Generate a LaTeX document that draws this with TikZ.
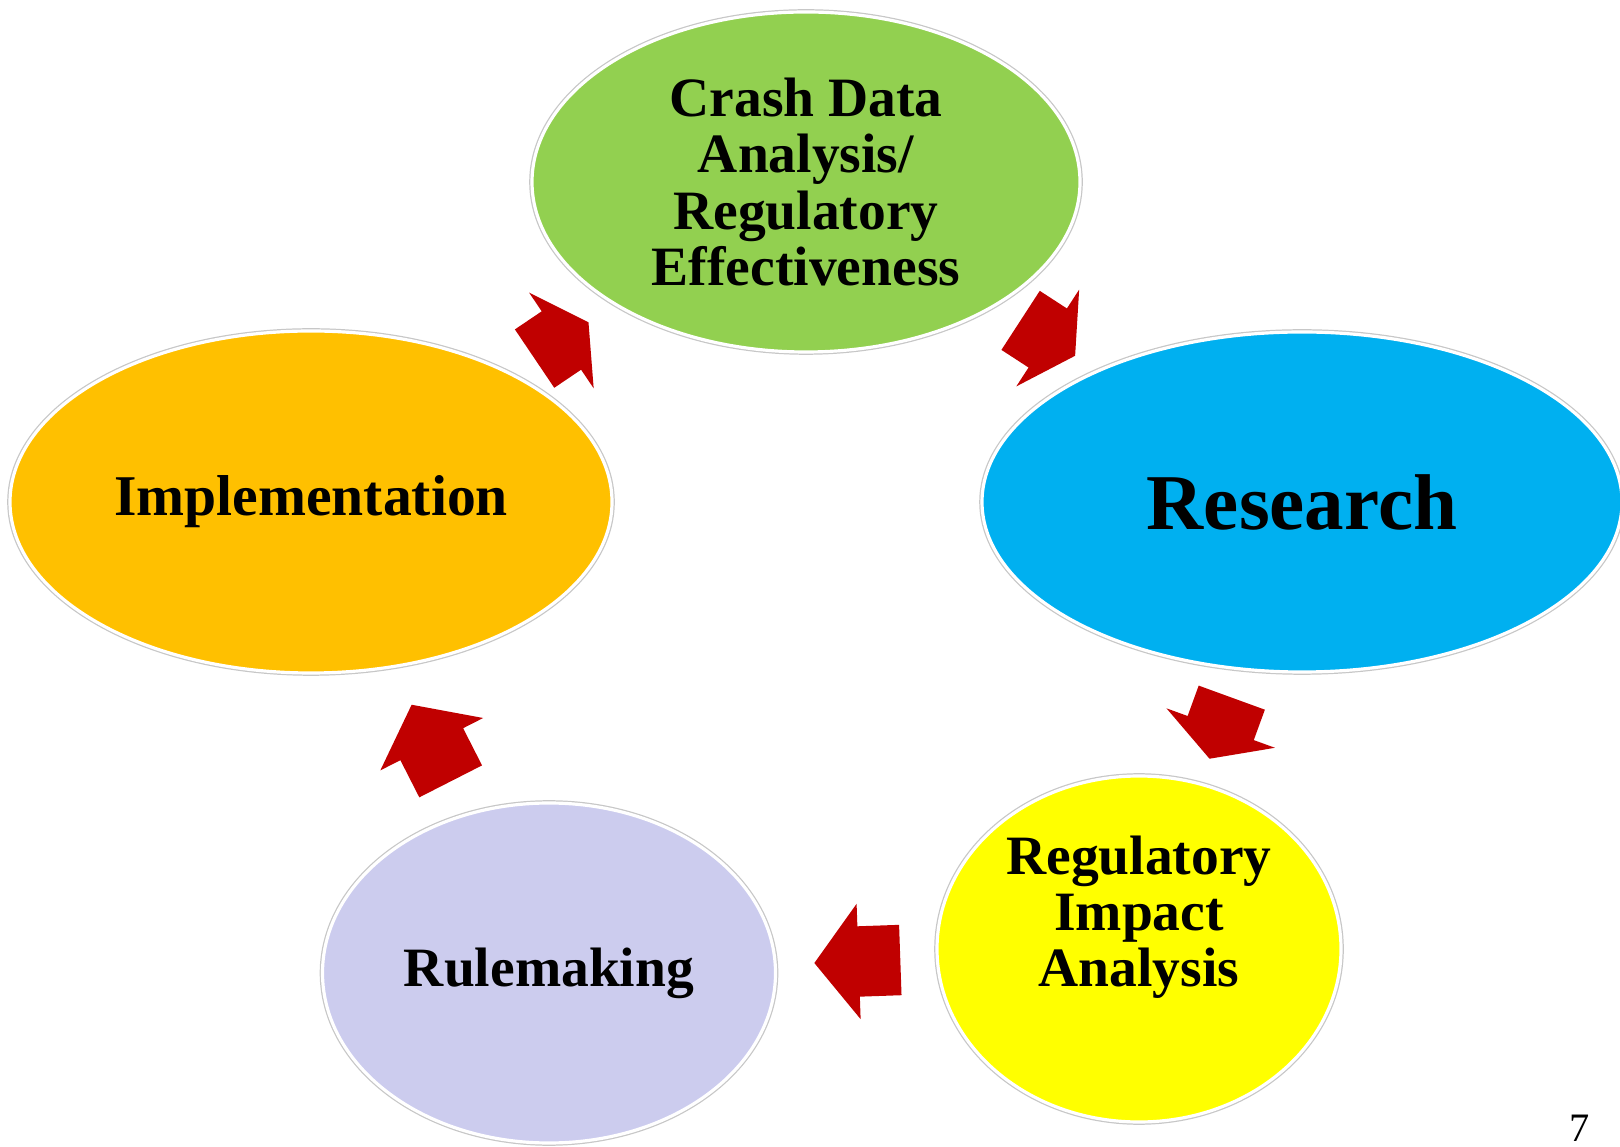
\documentclass[tikz,border=0pt]{standalone}
\usepackage{fontspec}
\setmainfont{Liberation Serif}
\usepackage{tikz}
\usetikzlibrary{positioning}
\usetikzlibrary{shapes.geometric,shapes.arrows}

\definecolor{CrashGreen}{HTML}{92D050}
\definecolor{ResearchBlue}{HTML}{00B0F0}
\definecolor{ImplOrange}{HTML}{FFC000}
\definecolor{ImpactYellow}{HTML}{FFFF00}
\definecolor{RuleLavender}{HTML}{CCCCEE}
\definecolor{CycleRed}{HTML}{C00000}

\tikzset{
	stage/.style={ellipse, inner sep=0pt, draw=white, line width=0.9pt,
		preaction={draw=black!22, line width=1.6pt},
		align=center, font=\fontsize{15.8}{16}\selectfont\bfseries},
	stagetext/.style={inner sep=0pt, align=center, font=\fontsize{15.8}{16}\selectfont\bfseries},
	cyclearrow/.style={single arrow, fill=CycleRed, anchor=tail,
		inner xsep=0pt, inner ysep=0.345cm, minimum width=0pt,
		single arrow head extend=0.225cm, single arrow tip angle=121,
		minimum height=0.65cm},
	longarrow/.style={cyclearrow, single arrow tip angle=105, minimum height=0.86cm},
}

\begin{document}
\begin{tikzpicture}

	% ------------------------------------------------
	% Size of the slide
	\useasboundingbox (0,0) rectangle (16.20cm,11.46cm);

	% ------------------------------------------------
	% Centres of the stages
	\coordinate (CrashPos)    at (8.06cm,9.64cm);
	\coordinate (ResearchPos) at (13.02cm,6.44cm);
	\coordinate (ImpactPos)   at (11.39cm,1.97cm);
	\coordinate (RulePos)     at (5.49cm,1.73cm);
	\coordinate (ImplPos)     at (3.11cm,6.44cm);

	% Tails of the block arrows
	\coordinate (TailA) at (5.34cm,7.87cm);
	\coordinate (TailB) at (10.20cm,8.26cm);
	\coordinate (TailC) at (12.32cm,4.49cm);
	\coordinate (TailD) at (9.01cm,1.86cm);
	\coordinate (TailE) at (4.51cm,3.64cm);

	% ----------------
	% Stages
	\node[stage, fill=CrashGreen, minimum width=5.48cm, minimum height=3.40cm] (Crash) at (CrashPos)
		{Crash Data\\Analysis/\\Regulatory\\Effectiveness};
	\node[stage, fill=ResearchBlue, minimum width=6.40cm, minimum height=3.40cm,
		font=\fontsize{22.5}{24}\selectfont\bfseries] (Research) at (ResearchPos) {Research};
	\node[stage, fill=ImpactYellow, minimum width=4.04cm, minimum height=3.46cm] (Impact) at (ImpactPos) {};
	\node[stagetext, yshift=0.32cm] (ImpactText) at (Impact) {Regulatory\\Impact\\Analysis};
	\node[stage, fill=RuleLavender, minimum width=4.53cm, minimum height=3.40cm] (Rule) at (RulePos) {Rulemaking};
	\node[stage, fill=ImplOrange, minimum width=6.02cm, minimum height=3.42cm,
		font=\fontsize{16.4}{17}\selectfont\bfseries] (Impl) at (ImplPos) {Implementation};

	%%%%%%%%%%%%%%%%%%%%%%%%%%%%%%%%%%%%%%%%%
	% Cycle arrows
	\node[cyclearrow, rotate=34]  (ImplToCrash)     at (TailA) {};
	\node[cyclearrow, rotate=-33] (CrashToResearch) at (TailB) {};
	\node[cyclearrow, rotate=250] (ResearchToImpact) at (TailC) {};
	\node[longarrow, rotate=182]  (ImpactToRule)    at (TailD) {};
	\node[longarrow, rotate=117]  (RuleToImpl)      at (TailE) {};

	% Slide number
	\node[anchor=base, inner sep=0pt, font=\fontsize{11.5}{12}\selectfont] (PageNum) at (15.80cm,0.05cm) {7};

\end{tikzpicture}
\end{document}
